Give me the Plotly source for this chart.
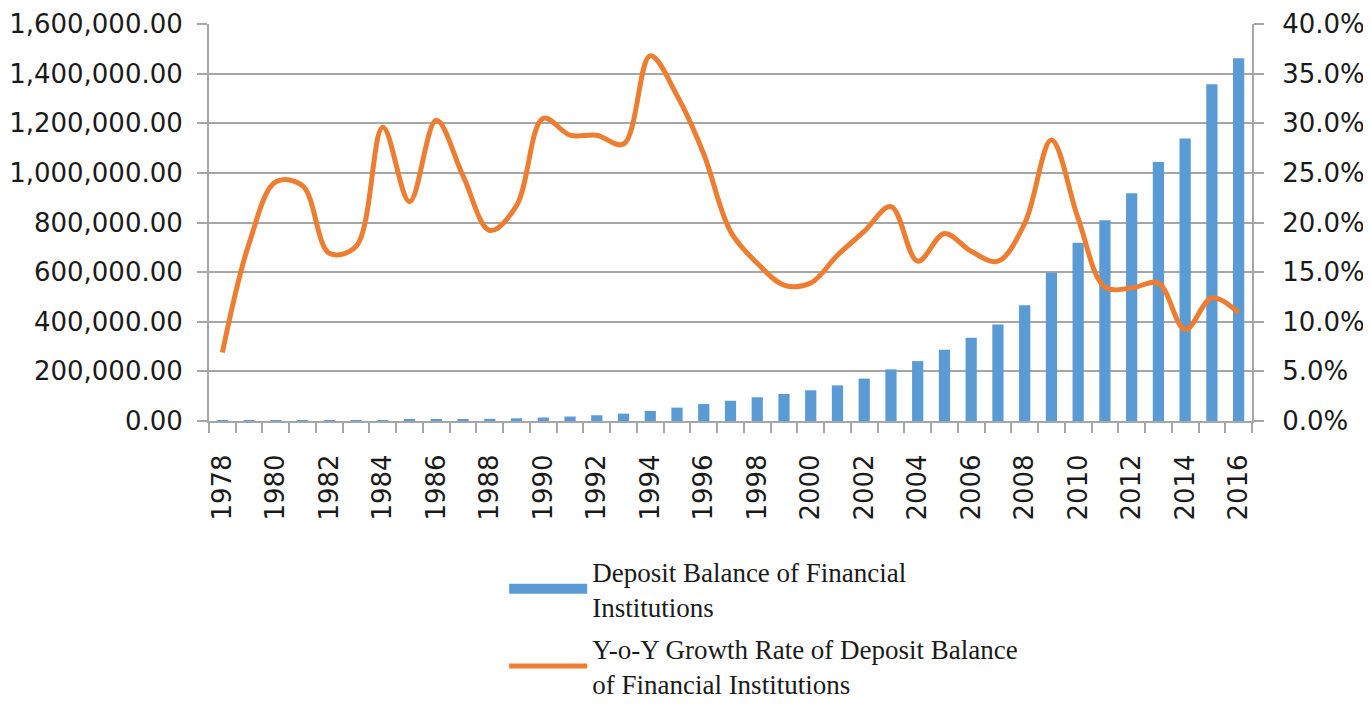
import plotly.graph_objects as go

years = list(range(1978, 2017))
deposit_balance = [1155, 1360, 1690, 2090, 2440, 2870, 3720, 4550, 5930, 7390,
                   8810, 10720, 13990, 18010, 23200, 29680, 40600, 53910, 68410, 81480,
                   95700, 108780, 123800, 143620, 170920, 208060, 241420, 287170, 335430, 389370,
                   466200, 597740, 718240, 809370, 917550, 1043850, 1138650, 1357020, 1462000]
growth_rate = [6.9, 17.9, 24.1, 23.7, 16.9, 17.6, 29.6, 22.1, 30.3, 24.7,
               19.2, 21.7, 30.5, 28.8, 28.8, 27.9, 36.8, 32.8, 26.9, 19.1,
               15.9, 13.7, 13.9, 16.7, 19.1, 21.6, 16.1, 18.9, 17.1, 16.1,
               19.9, 28.3, 20.4, 13.5, 13.4, 13.9, 9.2, 12.4, 10.9]
label_years = years[::2]

grey = "#a6a6a6"
blue = "#5b9bd5"
orange = "#ed7d31"
tick_font = dict(family="DejaVu Sans", size=26, color="#1a1a1a")

bars = go.Bar(x=years, y=deposit_balance, width=0.42,
              marker=dict(color=blue, line=dict(width=0)),
              showlegend=False)
# legend proxy so the bar key is a wide block like the original
bar_key = go.Scatter(x=[None], y=[None], mode="lines",
                     line=dict(color=blue, width=20),
                     name="Deposit Balance of Financial<br>Institutions",
                     legendgroup="a")
line = go.Scatter(x=years, y=growth_rate, yaxis="y2", mode="lines",
                  line=dict(color=orange, width=5, shape="spline", smoothing=1.0),
                  name="Y-o-Y Growth Rate of Deposit Balance<br>of Financial Institutions",
                  legendgroup="b")

# the page body adds an 8px offset, so the figure is sized to end at the window edge
layout = go.Layout(
    width=1363, height=696,
    margin=dict(l=201, r=119, t=16, b=283, autoexpand=False),
    plot_bgcolor="white", paper_bgcolor="white",
    showlegend=True,
    legend=dict(x=0.283, y=-0.318, xanchor="left", yanchor="top",
                font=dict(family="Liberation Serif", size=27, color="#1a1a1a"),
                tracegroupgap=4, itemwidth=78),
    xaxis=dict(range=[1977.5, 2016.5], tickvals=label_years, ticktext=[str(y) for y in label_years],
               tickangle=-90, tickfont=tick_font, ticks="", ticklabelstandoff=21,
               showgrid=False, showline=True, linecolor=grey, linewidth=2,
               minor=dict(ticks="outside", tick0=1977.5, dtick=1, ticklen=10,
                          tickcolor=grey, tickwidth=2, showgrid=False),
               zeroline=False, automargin=False, ticklabeloverflow="allow"),
    yaxis=dict(range=[0, 1600000], dtick=200000, tickformat=",.2f", tickfont=tick_font,
               showgrid=True, gridcolor=grey, gridwidth=2,
               showline=True, linecolor=grey, linewidth=2,
               ticks="outside", ticklen=10, tickcolor=grey, tickwidth=2,
               ticklabelstandoff=9, zeroline=False, automargin=False,
               ticklabeloverflow="allow"),
    yaxis2=dict(range=[0, 40], dtick=5, tickformat=".1f", ticksuffix="%", tickfont=tick_font,
                overlaying="y", side="right", showgrid=False,
                showline=True, linecolor=grey, linewidth=2,
                ticks="outside", ticklen=10, tickcolor=grey, tickwidth=2,
                ticklabelstandoff=13, zeroline=False, automargin=False,
                ticklabeloverflow="allow"),
)

fig = go.Figure(data=[bars, bar_key, line], layout=layout)
fig.write_html("out.html")
